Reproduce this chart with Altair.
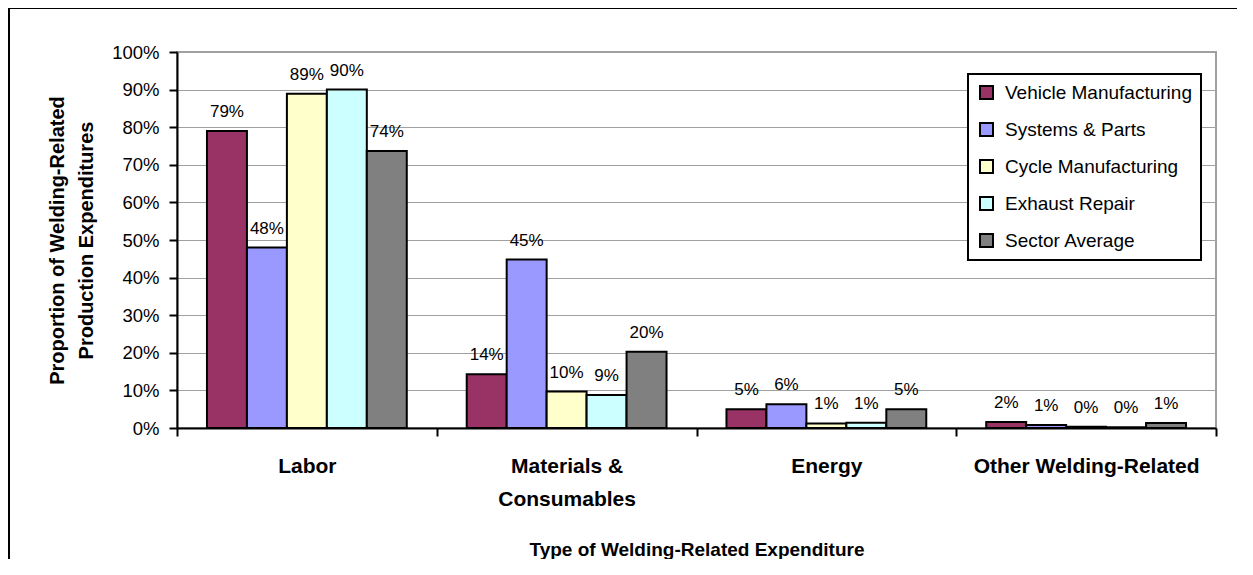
import altair as alt
import pandas as pd

categories = ["Labor", "Materials & Consumables", "Energy", "Other Welding-Related"]
series = ["Vehicle Manufacturing", "Systems & Parts", "Cycle Manufacturing", "Exhaust Repair", "Sector Average"]
colors = ["#993366", "#9999FF", "#FFFFCC", "#CCFFFF", "#808080"]
y_ticks = [0, 10, 20, 30, 40, 50, 60, 70, 80, 90, 100]

vehicle = [79.0, 14.3, 5.0, 1.6]
systems = [48.0, 44.8, 6.3, 0.8]
cycle = [88.9, 9.7, 1.2, 0.3]
exhaust = [90.0, 8.8, 1.4, 0.2]
sector = [73.7, 20.3, 5.0, 1.3]

values = [vehicle, systems, cycle, exhaust, sector]
rows = []
for s, vals in zip(series, values):
    for c, v in zip(categories, vals):
        rows.append({"category": c, "series": s, "value": v})
df = pd.DataFrame(rows)

FONT = "Liberation Sans"

x_axis = alt.Axis(
    title="Type of Welding-Related Expenditure",
    titleFont=FONT, titleFontSize=19, titleFontWeight="bold", titleColor="black",
    titlePadding=31,
    labelFont=FONT, labelFontSize=21, labelFontWeight="bold", labelColor="black",
    labelAngle=0, labelPadding=19, labelLineHeight=33, labelLimit=400,
    labelExpr="datum.value == 'Materials & Consumables' ? ['Materials &', 'Consumables'] : datum.label",
    tickBand="extent", ticks=True, tickColor="black", tickWidth=2, tickSize=8,
    domainColor="black", domainWidth=2, grid=False,
)
y_axis = alt.Axis(
    title=["Proportion of Welding-Related", "Production Expenditures"],
    titleFont=FONT, titleFontSize=20, titleFontWeight="bold", titleColor="black",
    titlePadding=15, titleLineHeight=29,
    values=y_ticks, labelExpr="datum.value + '%'", labelOverlap=False,
    labelFont=FONT, labelFontSize=18.5, labelColor="black", labelPadding=10,
    tickColor="black", tickWidth=2, tickSize=8,
    domainColor="black", domainWidth=2,
    grid=True, gridColor="#a0a0a0", gridWidth=1,
)

x_enc = alt.X("category:N", sort=categories,
              scale=alt.Scale(paddingInner=0, paddingOuter=0), axis=x_axis)
xoff = alt.XOffset("series:N", sort=series,
                   scale=alt.Scale(paddingInner=0, paddingOuter=0.75))
y_enc = alt.Y("value:Q", scale=alt.Scale(domain=[0, 100], nice=False), axis=y_axis)

bars = alt.Chart(df).mark_bar(stroke="black", strokeWidth=2).encode(
    x=x_enc,
    xOffset=xoff,
    y=y_enc,
    color=alt.Color(
        "series:N",
        sort=series,
        scale=alt.Scale(domain=series, range=colors),
        legend=alt.Legend(
            title=None, orient="none", legendX=791, legendY=22,
            fillColor="white", strokeColor="black", padding=9,
            symbolType="square", symbolSize=169, symbolStrokeColor="black", symbolStrokeWidth=2,
            labelFont=FONT, labelFontSize=19, labelColor="black", labelOffset=9,
            labelLimit=400, rowPadding=16,
        ),
    ),
)

labels = alt.Chart(df).transform_calculate(
    lab="format(round(datum.value), 'd') + '%'"
).mark_text(
    font=FONT, fontSize=17, color="black", baseline="alphabetic", dy=-14
).encode(
    x=x_enc,
    xOffset=xoff,
    y=y_enc,
    text="lab:N",
)

frame = alt.Chart(pd.DataFrame({"a": [0]})).mark_rect(
    fill=None, stroke="black", strokeWidth=2, clip=False
).encode(
    x=alt.value(-168), y=alt.value(-44), x2=alt.value(3000), y2=alt.value(3000)
)

chart = alt.layer(frame, bars, labels).properties(
    width=1039, height=376,
    autosize=alt.AutoSizeParams(type="none"),
    padding={"left": 169, "top": 44, "right": 21, "bottom": 131},
).configure_view(
    stroke="#a0a0a0", strokeWidth=2
).configure_legend(
    strokeWidth=2
)

chart.save("out.html", embed_options={"renderer": "svg", "actions": False})
